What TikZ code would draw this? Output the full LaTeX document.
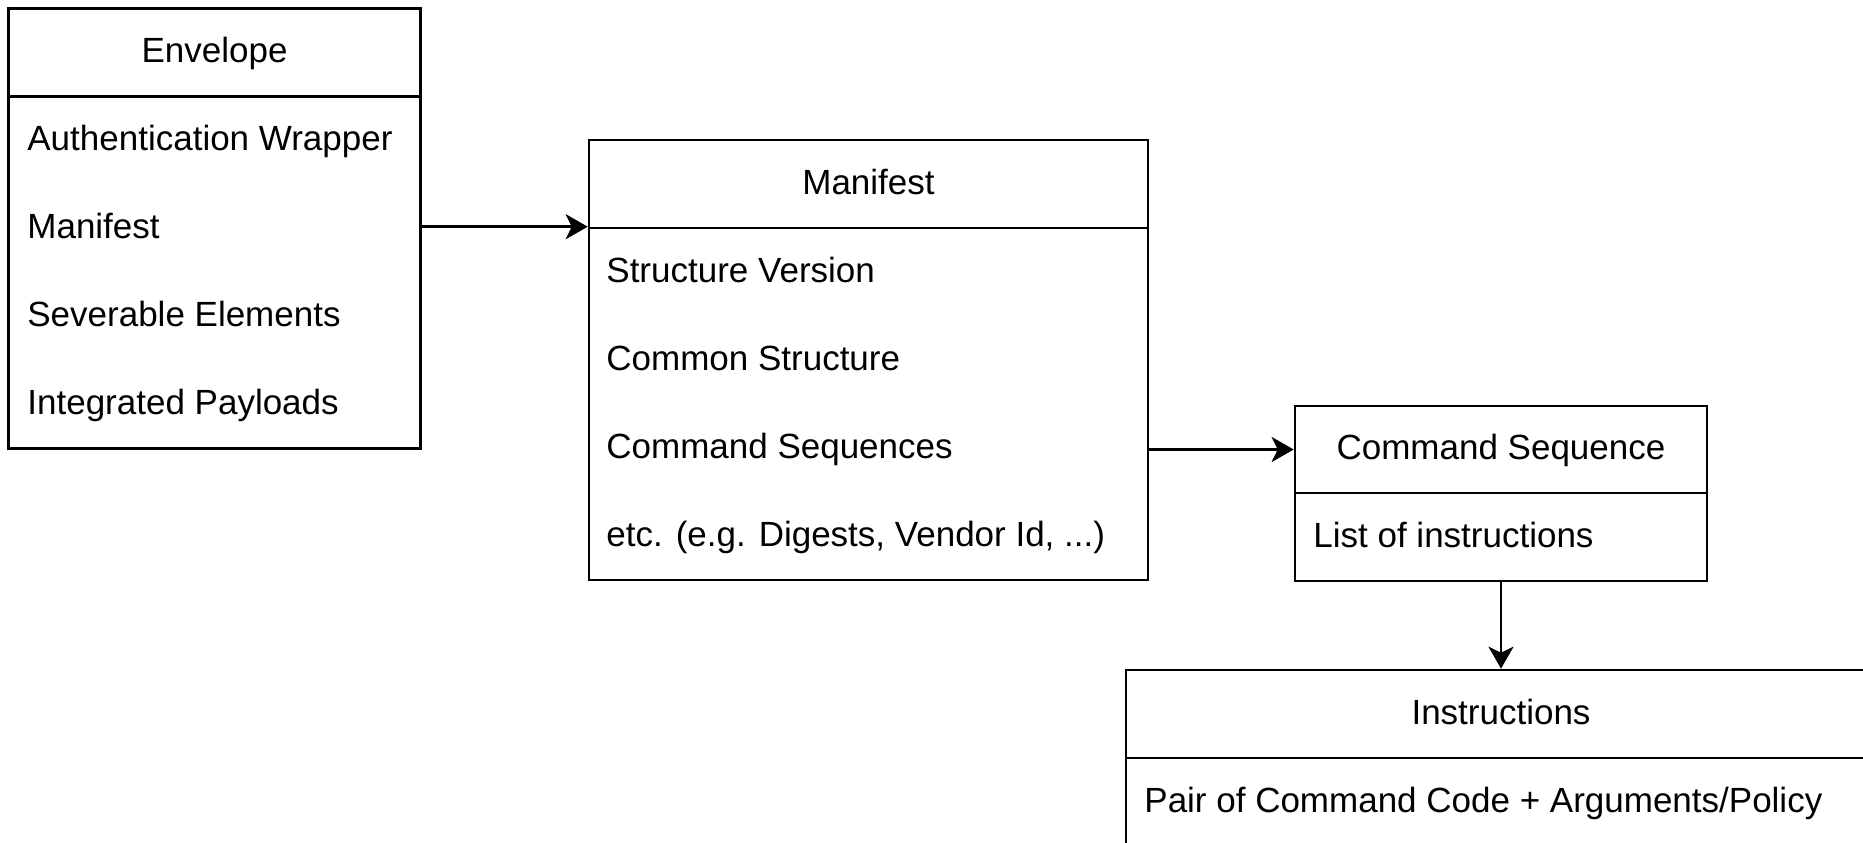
\documentclass[tikz,border=0pt]{standalone}
\usepackage{fontspec}
\setmainfont{Liberation Sans}
\usetikzlibrary{arrows.meta}
\tikzset{
  box/.style={draw, line width=1.3pt, inner sep=0pt, fill=white},
  lbl/.style={anchor=base west, inner sep=0pt, font=\fontsize{17.5}{21}\selectfont},
  ttl/.style={anchor=base, inner sep=0pt, font=\fontsize{17.5}{21}\selectfont},
  arr/.style={line width=1.3pt, -{Stealth[length=11pt,width=12.5pt,inset=3pt]}}
}
\begin{document}
\begin{tikzpicture}[x=0.5pt,y=-0.5pt]
\useasboundingbox (0,0) rectangle (1863,842);
\clip (0,0) rectangle (1863,842);

% Envelope
\node[box, minimum width=206.1pt, minimum height=44.1pt] (envh) at (214.6,52.6) {};
\node[ttl] (envt) at (214.6,62.6) {Envelope};
\node[box, minimum width=206.1pt, minimum height=176pt] (envb) at (214.6,272.7) {};
\node[lbl] (env1) at (27,150.7) {Authentication Wrapper};
\node[lbl] (env2) at (27,238.7) {Manifest};
\node[lbl] (env3) at (27,326.7) {Severable Elements};
\node[lbl] (env4) at (27,414.7) {Integrated Payloads};

% Manifest
\node[box, minimum width=279.5pt, minimum height=44pt] (manh) at (868.5,184) {};
\node[ttl] (mant) at (868.5,194) {Manifest};
\node[box, minimum width=279.5pt, minimum height=176pt] (manb) at (868.5,404) {};
\node[lbl] (man1) at (606,282) {Structure Version};
\node[lbl] (man2) at (606,370) {Common Structure};
\node[lbl] (man3) at (606,458) {Command Sequences};
\node[lbl] (man4) at (606,546) {etc. (e.g. Digests, Vendor Id, ...)};

% Command Sequence
\node[box, minimum width=206pt, minimum height=43.5pt] (csh) at (1501,449.5) {};
\node[ttl] (cst) at (1501,459.5) {Command Sequence};
\node[box, minimum width=206pt, minimum height=44pt] (csb) at (1501,537) {};
\node[lbl] (cs1) at (1313,547) {List of instructions};

% Instructions
\node[box, minimum width=375pt, minimum height=44pt] (insh) at (1501,714) {};
\node[ttl] (inst) at (1501,724) {Instructions};
\node[box, minimum width=375pt, minimum height=44pt] (insb) at (1501,802) {};
\node[lbl] (ins1) at (1144,812) {Pair of Command Code + Arguments/Policy};

% Connectors
\draw[arr] (envb.east |- manb.north west) -- (manb.north west);
\draw[arr] (manb.east |- csh.west) -- (csh.west);
\draw[arr] (csb.south) -- (insh.north);
\end{tikzpicture}
\end{document}
